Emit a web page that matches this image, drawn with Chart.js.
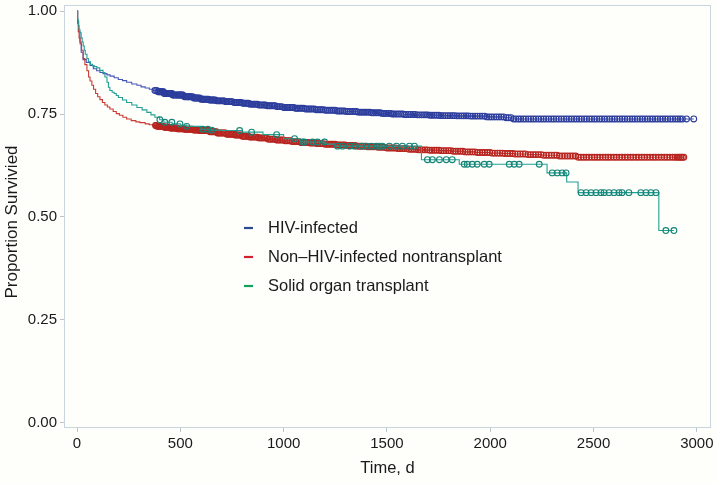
<!DOCTYPE html>
<html><head><meta charset="utf-8">
<script src="https://cdn.jsdelivr.net/npm/chart.js@4/dist/chart.umd.min.js"></script>
<style>html,body{margin:0;padding:0;background:#fefefb;} #wrap{width:716px;height:484px;}</style>
</head><body><div id="wrap"><canvas id="c" width="716" height="484"></canvas></div>
<script>
// ---- Data ----
const seriesNames = ["HIV-infected", "Non\u2013HIV-infected nontransplant", "Solid organ transplant"];
const xTitle = "Time, d";
const yTitle = "Proportion Survivied";

const hivTimes  = [0,3,8,14,20,29,45,63,79,95,111,126,145,160,180,200,220,240,265,290,310,330,350,367,390,420,460,513,560,600,640,676,720,760,800,836,880,920,960,1000,1050,1100,1150,1200,1250,1300,1360,1420,1470,1520,1580,1640,1700,1760,1830,1900,1980,2068,2110,2985];
const hivSurv   = [1.0,0.975,0.95,0.925,0.90,0.882,0.875,0.868,0.86,0.855,0.851,0.848,0.845,0.842,0.838,0.834,0.831,0.827,0.823,0.82,0.816,0.813,0.81,0.807,0.804,0.80,0.796,0.792,0.789,0.786,0.784,0.782,0.78,0.778,0.776,0.774,0.772,0.77,0.768,0.766,0.764,0.762,0.7605,0.759,0.7575,0.756,0.7545,0.753,0.7515,0.75,0.749,0.748,0.747,0.746,0.7455,0.745,0.743,0.741,0.738,0.738];

const nonTimes  = [0,3,6,10,15,22,30,38,48,56,63,72,80,90,100,111,123,135,147,159,175,190,205,222,240,262,285,304,330,350,367,386,420,450,485,520,560,594,640,680,720,760,800,836,880,920,960,1000,1040,1080,1120,1160,1200,1250,1300,1350,1400,1450,1500,1550,1600,1650,1700,1760,1810,1870,1930,2000,2060,2120,2180,2250,2330,2415,2937];
const nonSurv   = [1.0,0.97,0.95,0.935,0.92,0.905,0.885,0.87,0.855,0.84,0.83,0.82,0.81,0.80,0.792,0.785,0.778,0.772,0.767,0.762,0.756,0.751,0.747,0.742,0.738,0.734,0.731,0.729,0.726,0.724,0.722,0.72,0.718,0.716,0.714,0.713,0.711,0.71,0.707,0.704,0.701,0.699,0.696,0.694,0.692,0.689,0.687,0.685,0.683,0.681,0.6795,0.678,0.6765,0.675,0.6735,0.672,0.6705,0.669,0.6675,0.666,0.6645,0.663,0.662,0.661,0.6595,0.658,0.6565,0.655,0.654,0.653,0.6515,0.650,0.648,0.645,0.645];

const sotTimes  = [0,3,6,10,14,20,25,30,35,40,48,55,65,75,85,96,110,126,135,145,152,159,170,180,190,200,220,240,265,290,315,338,358,377,400,420,460,500,531,600,650,700,800,900,1000,1080,1200,1250,1667,1850,2275,2370,2425,2816,2889];
const sotSurv   = [1.0,0.98,0.965,0.955,0.947,0.935,0.925,0.915,0.905,0.895,0.885,0.877,0.871,0.867,0.865,0.862,0.856,0.851,0.84,0.827,0.815,0.807,0.803,0.80,0.795,0.79,0.784,0.778,0.772,0.766,0.76,0.754,0.748,0.742,0.736,0.73,0.726,0.723,0.72,0.713,0.711,0.71,0.706,0.70,0.69,0.682,0.677,0.672,0.639,0.628,0.607,0.585,0.559,0.467,0.467];

// censoring times
const hivCensor = [377,385,392,397,401,405,409,414,418,422,426,431,437,441,446,450,455,459,463,468,474,480,486,490,495,499,503,508,512,520,527,533,538,542,546,553,559,565,571,576,580,587,594,600,607,612,616,622,629,635,641,647,653,658,662,669,676,682,688,694,701,707,713,720,726,733,739,745,751,760,768,775,782,788,795,802,809,816,823,830,836,844,851,859,866,873,880,889,897,905,912,920,928,935,943,951,959,967,974,982,991,1000,1008,1015,1022,1030,1039,1048,1057,1064,1071,1080,1088,1097,1106,1115,1123,1131,1139,1149,1158,1167,1176,1184,1193,1203,1212,1222,1231,1240,1249,1259,1268,1276,1285,1295,1304,1313,1322,1333,1343,1352,1361,1371,1380,1389,1398,1408,1417,1427,1436,1447,1458,1468,1477,1486,1495,1506,1516,1525,1534,1545,1555,1566,1576,1585,1594,1605,1615,1626,1636,1647,1657,1668,1678,1688,1697,1708,1718,1729,1740,1751,1762,1772,1783,1795,1806,1817,1827,1838,1849,1861,1872,1883,1893,1905,1916,1927,1938,1950,1961,1973,1984,1995,2006,2018,2030,2042,2053,2065,2077,2089,2101,2113,2125,2137,2148,2160,2172,2185,2197,2209,2221,2234,2246,2258,2270,2283,2295,2307,2319,2332,2344,2357,2369,2381,2393,2406,2418,2430,2442,2455,2467,2480,2492,2504,2516,2529,2541,2553,2565,2578,2590,2602,2614,2627,2639,2651,2663,2676,2688,2700,2712,2725,2737,2749,2761,2774,2786,2798,2810,2823,2835,2847,2859,2872,2884,2896,2908,2919,2930,2950,2985];
const nonCensor = [380,384,388,393,397,401,405,410,414,419,423,427,431,437,442,447,451,456,460,465,469,475,480,485,490,495,499,504,509,515,520,526,531,537,542,548,553,559,565,571,577,583,588,594,600,606,612,618,624,630,636,643,649,655,661,668,674,680,686,693,699,706,712,719,725,732,738,745,752,759,765,772,779,786,793,800,807,814,821,829,836,843,850,858,865,873,880,888,895,903,910,918,926,934,942,950,958,966,974,982,990,999,1007,1016,1024,1033,1041,1050,1058,1067,1075,1084,1092,1101,1110,1119,1128,1137,1146,1155,1164,1174,1183,1192,1201,1211,1220,1230,1239,1249,1258,1268,1277,1287,1297,1307,1316,1326,1336,1346,1356,1366,1376,1386,1396,1407,1417,1427,1437,1448,1458,1469,1479,1490,1500,1511,1521,1532,1542,1553,1564,1575,1585,1596,1607,1618,1629,1640,1651,1662,1673,1684,1695,1707,1718,1729,1740,1752,1763,1775,1786,1798,1809,1821,1832,1844,1855,1867,1879,1891,1902,1914,1926,1938,1950,1962,1974,1986,1998,2010,2022,2035,2047,2059,2071,2084,2096,2108,2120,2133,2145,2158,2170,2183,2195,2208,2220,2233,2246,2258,2271,2284,2297,2310,2322,2335,2348,2361,2374,2387,2400,2413,2426,2439,2452,2465,2478,2492,2505,2518,2531,2545,2558,2571,2584,2598,2611,2625,2638,2652,2665,2679,2692,2706,2719,2733,2746,2760,2774,2788,2801,2815,2829,2843,2856,2870,2884,2895,2905,2914,2922,2930,2937];
const sotCensor = [401,425,459,498,531,609,633,652,787,845,966,1053,1092,1101,1140,1164,1198,1261,1285,1319,1343,1377,1401,1425,1449,1464,1478,1512,1546,1575,1609,1633,1696,1720,1754,1787,1816,1874,1889,1913,1937,1971,1995,2092,2116,2140,2237,2300,2324,2348,2367,2440,2464,2488,2512,2536,2551,2575,2599,2623,2638,2671,2729,2754,2778,2802,2850,2889];

const xTicks = [0,500,1000,1500,2000,2500,3000];
const yTicks = [0,0.25,0.5,0.75,1.0];

// ---- Styles ----
const lineColors   = ["#4656b8", "#cc3a33", "#23a093"];
const markColors   = ["#2c3d9c", "#b8241f", "#138476"];
const legendColors = ["#2a4b8d", "#d3212d", "#12a05c"];

function pts(t, v){ return t.map((x,i)=>({x:x, y:v[i]})); }
function stepAt(t, v, x){ let k=0; for(let i=0;i<t.length;i++){ if(t[i]<=x) k=i; } return v[k]; }
function cens(ct, t, v){ return ct.map(x=>({x:x, y:stepAt(t,v,x)})); }

const curves = [[hivTimes,hivSurv,hivCensor],[nonTimes,nonSurv,nonCensor],[sotTimes,sotSurv,sotCensor]];
const datasets = [];
curves.forEach((c,i)=>{
  datasets.push({label:seriesNames[i], data:pts(c[0],c[1]), stepped:'before', borderColor:lineColors[i], borderWidth:1.1, pointRadius:0, fill:false, order: 10-i*2});
});
curves.forEach((c,i)=>{
  datasets.push({label:seriesNames[i]+' censored', data:cens(c[2],c[0],c[1]), showLine:false, pointStyle:'circle', pointRadius:2.9, pointBorderWidth:1.1, pointBorderColor:markColors[i], pointBackgroundColor:'rgba(255,255,255,0)', order: 9-i*2});
});

const bgFrame = {
  id:'bgFrame',
  beforeDraw(chart){ const ctx=chart.ctx; ctx.save(); ctx.fillStyle='#fefefb'; ctx.fillRect(0,0,chart.width,chart.height); ctx.restore(); },
  afterDraw(chart){
    const a=chart.chartArea, ctx=chart.ctx;
    ctx.save(); ctx.strokeStyle='#c9d5de'; ctx.lineWidth=1;
    ctx.strokeRect(Math.round(a.left)+0.5, Math.round(a.top)+0.5, Math.round(a.right-a.left)-1, Math.round(a.bottom-a.top)-1);
    // y axis title
    ctx.save(); ctx.translate(12, 222); ctx.rotate(-Math.PI/2);
    ctx.font='17px "Liberation Sans", Arial, sans-serif'; ctx.textAlign='center'; ctx.textBaseline='middle';
    ctx.fillStyle='#1a1a1a'; ctx.fillText(yTitle, 0, 0); ctx.restore();
    // legend
    ctx.font='16.5px "Liberation Sans", Arial, sans-serif'; ctx.textBaseline='middle'; ctx.textAlign='left';
    const ys=[228,257,286];
    seriesNames.forEach((n,i)=>{
      ctx.strokeStyle=legendColors[i]; ctx.lineWidth=2.2;
      ctx.beginPath(); ctx.moveTo(244,ys[i]); ctx.lineTo(253,ys[i]); ctx.stroke();
      ctx.fillStyle='#1a1a1a'; ctx.fillText(n,268,ys[i]);
    });
    ctx.restore();
  }
};

const tickFont = {family:'"Liberation Sans", Arial, sans-serif', size:15};
const titleFont = {family:'"Liberation Sans", Arial, sans-serif', size:16.5};
new Chart(document.getElementById('c'), {
  type:'line',
  data:{datasets:datasets},
  options:{
    responsive:false, animation:false, devicePixelRatio:1,
    layout:{padding:{top:2,right:4,left:0,bottom:0}},
    plugins:{legend:{display:false}, tooltip:{enabled:false}},
    scales:{
      x:{type:'linear', min:-63, max:3068,
        afterBuildTicks(s){ s.ticks = xTicks.map(v=>({value:v})); },
        afterFit(s){ s.height=56; s.paddingLeft=0; s.paddingRight=0; },
        grid:{display:true, drawOnChartArea:false, drawTicks:true, tickLength:4, color:'#b9c5cd'},
        border:{display:false},
        ticks:{font:tickFont, color:'#1a1a1a', padding:3, maxRotation:0, callback:v=>String(v)},
        title:{display:true, text:xTitle, font:titleFont, color:'#1a1a1a', padding:{top:4,bottom:6}}
      },
      y:{type:'linear', min:-0.0125, max:1.0145,
        afterBuildTicks(s){ s.ticks = yTicks.map(v=>({value:v})); },
        afterFit(s){ s.width=64; s.paddingTop=0; s.paddingBottom=0; },
        grid:{display:true, drawOnChartArea:false, drawTicks:true, tickLength:4, color:'#b9c5cd'},
        border:{display:false},
        ticks:{font:tickFont, color:'#1a1a1a', padding:3, callback:v=>Number(v).toFixed(2)},
        title:{display:false}
      }
    }
  },
  plugins:[bgFrame]
});
</script>
</body></html>
